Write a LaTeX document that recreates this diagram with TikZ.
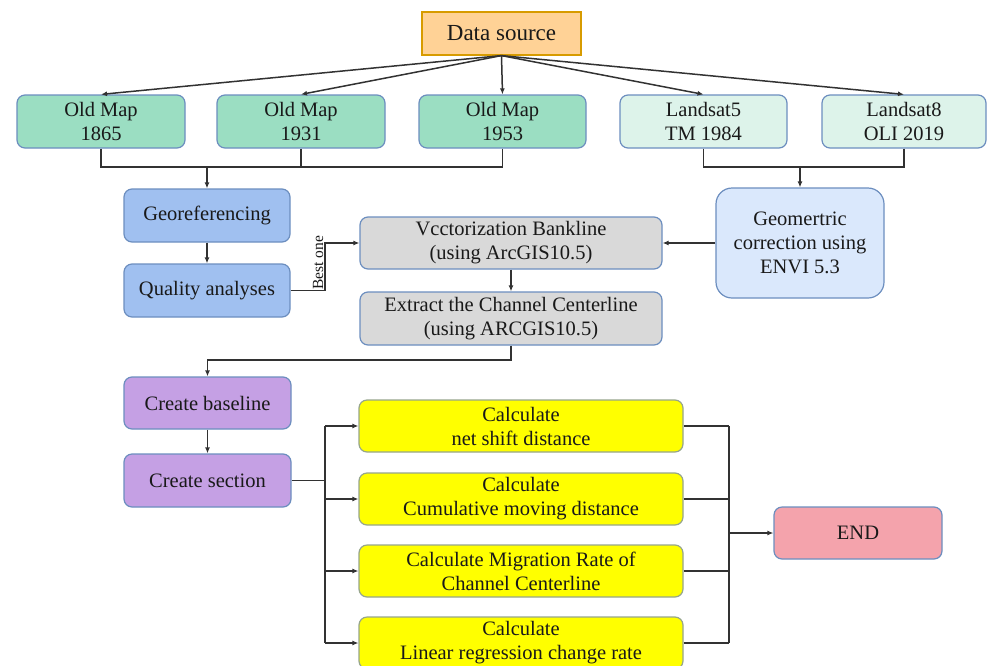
\documentclass[tikz,border=0pt]{standalone}
\usepackage{fontspec}
\setmainfont{Liberation Serif}
\usetikzlibrary{arrows.meta}
\definecolor{bdr}{RGB}{108,142,191}
\definecolor{orfill}{RGB}{255,210,150}
\definecolor{ordraw}{RGB}{215,155,0}
\definecolor{mint}{RGB}{155,222,194}
\definecolor{mintlt}{RGB}{221,243,234}
\definecolor{bluemid}{RGB}{160,192,240}
\definecolor{greyfill}{RGB}{217,217,217}
\definecolor{bluelt}{RGB}{218,232,252}
\definecolor{purp}{RGB}{197,160,228}
\definecolor{yel}{RGB}{255,255,0}
\definecolor{yelbdr}{RGB}{150,165,140}
\definecolor{pinkf}{RGB}{244,163,172}
\definecolor{linec}{RGB}{50,50,50}
\tikzset{
  box/.style={draw=bdr, line width=1.2pt, rounded corners=8pt, align=center,
    inner sep=2pt, font=\fontsize{20.5}{24}\selectfont, text=black!90},
  conn/.style={draw=linec, line width=1.5pt},
  arr/.style={conn, -{Latex[length=6pt,width=5pt]}}
}
\begin{document}
\begin{tikzpicture}[x=1pt,y=-1pt]
\useasboundingbox (0,0) rectangle (988,665);
% nodes
\node[box, rounded corners=0pt, fill=orfill, draw=ordraw, minimum width=159pt, minimum height=43pt,
  font=\fontsize{23}{27}\selectfont] (ds) at (501.5,33.5) {Data source};
\node[box, fill=mint, minimum width=168pt, minimum height=53pt] (m1) at (101,121.5) {Old Map\\1865};
\node[box, fill=mint, minimum width=168pt, minimum height=53pt] (m2) at (301,121.5) {Old Map\\1931};
\node[box, fill=mint, minimum width=167pt, minimum height=53pt] (m3) at (502.5,121.5) {Old Map\\1953};
\node[box, fill=mintlt, minimum width=167pt, minimum height=53pt] (l5) at (703.5,121.5) {Landsat5\\TM 1984};
\node[box, fill=mintlt, minimum width=164pt, minimum height=53pt] (l8) at (904,121.5) {Landsat8\\OLI 2019};
\node[box, fill=bluemid, minimum width=166pt, minimum height=53pt] (geo) at (207,215.5) {Georeferencing};
\node[box, fill=bluemid, minimum width=166pt, minimum height=53pt] (qa) at (207,290.5) {Quality analyses};
\node[box, fill=greyfill, minimum width=302pt, minimum height=52pt] (vec) at (511,243) {Vcctorization Bankline\\(using ArcGIS10.5)};
\node[box, fill=greyfill, minimum width=302pt, minimum height=53pt] (ext) at (511,318.5) {Extract the Channel Centerline\\(using ARCGIS10.5)};
\node[box, fill=bluelt, rounded corners=16pt, minimum width=168pt, minimum height=110pt] (gc) at (800,243) {Geomertric\\correction using\\ENVI 5.3};
\node[box, fill=purp, minimum width=167pt, minimum height=52pt] (cb) at (207.5,403) {Create baseline};
\node[box, fill=purp, minimum width=167pt, minimum height=53pt] (cs) at (207.5,480.5) {Create section};
\node[box, fill=yel, draw=yelbdr, minimum width=324pt, minimum height=52pt] (y1) at (521,426) {Calculate\\net shift distance};
\node[box, fill=yel, draw=yelbdr, minimum width=324pt, minimum height=52pt] (y2) at (521,499) {Calculate\\Cumulative moving distance};
\node[box, fill=yel, draw=yelbdr, minimum width=324pt, minimum height=52pt] (y3) at (521,571) {Calculate Migration Rate of\\Channel Centerline};
\node[box, fill=yel, draw=yelbdr, minimum width=324pt, minimum height=52pt] (y4) at (521,643) {Calculate\\Linear regression change rate};
\node[box, fill=pinkf, minimum width=168pt, minimum height=52pt] (end) at (858,533) {END};
% coordinates
\coordinate (jL) at (207,167);
\coordinate (jR) at (800,167);
\coordinate (bo) at (325,243);
\coordinate (k) at (207.5,360);
\coordinate (t1) at (325,426);
\coordinate (t4) at (325,643);
\coordinate (r1) at (729,426);
\coordinate (r4) at (729,643);
\coordinate (rm) at (729,533);
% connectors
\draw[arr] (ds.south) -- (m1.north);
\draw[arr] (ds.south) -- (m2.north);
\draw[arr] (ds.south) -- (m3.north);
\draw[arr] (ds.south) -- (l5.north);
\draw[arr] (ds.south) -- (l8.north);
\draw[conn] (m1.south) |- (jL);
\draw[conn] (m3.south) |- (jL);
\draw[conn] (m2.south) -- (m2.south |- jL);
\draw[arr] (jL) -- (geo.north);
\draw[conn] (l5.south) |- (jR);
\draw[conn] (l8.south) |- (jR);
\draw[arr] (jR) -- (gc.north);
\draw[arr] (geo.south) -- (qa.north);
\draw[arr] (qa.east) -| (bo) -- (vec.west);
\node[rotate=90, anchor=south, inner sep=1.5pt, font=\fontsize{15.5}{18}\selectfont, text=black!90] (best) at (325,263) {Best one};
\draw[arr] (gc.west) -- (vec.east);
\draw[arr] (vec.south) -- (ext.north);
\draw[arr] (ext.south) |- (k) -- (cb.north);
\draw[arr] (cb.south) -- (cs.north);
\draw[conn] (cs.east) -- (cs.east -| t1);
\draw[conn] (t1) -- (t4);
\draw[arr] (t1) -- (y1.west);
\draw[arr] (t1 |- y2.west) -- (y2.west);
\draw[arr] (t1 |- y3.west) -- (y3.west);
\draw[arr] (t4) -- (y4.west);
\draw[conn] (y1.east) -- (r1);
\draw[conn] (y2.east) -- (y2.east -| r1);
\draw[conn] (y3.east) -- (y3.east -| r1);
\draw[conn] (y4.east) -- (r4);
\draw[conn] (r1) -- (r4);
\draw[arr] (rm) -- (end.west);
\end{tikzpicture}
\end{document}
